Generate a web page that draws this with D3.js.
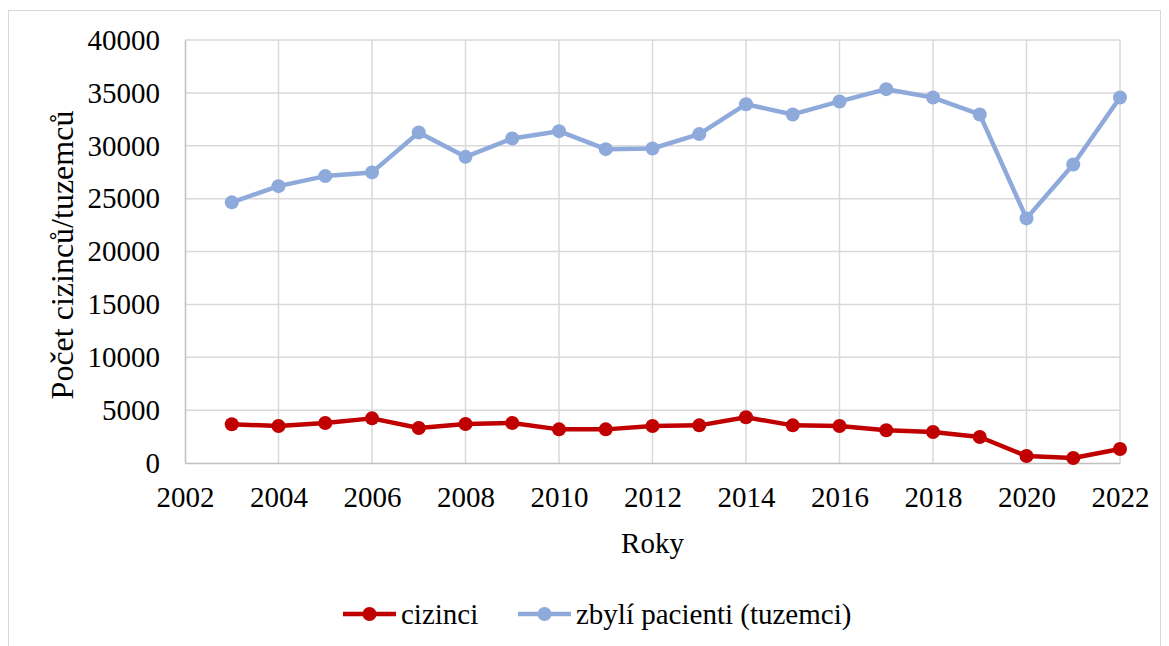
<!DOCTYPE html>
<html>
<head>
<meta charset="utf-8">
<script src="https://cdn.jsdelivr.net/npm/d3@7"></script>
<style>
  body { margin: 0; background: #fff; }
</style>
</head>
<body>
<div id="chart"></div>
<script>
// data
var years = [2003, 2004, 2005, 2006, 2007, 2008, 2009, 2010, 2011, 2012,
             2013, 2014, 2015, 2016, 2017, 2018, 2019, 2020, 2021, 2022]
var cizinci = [3660, 3500, 3780, 4220, 3310, 3690, 3780, 3180, 3180, 3500,
               3560, 4320, 3560, 3500, 3090, 2930, 2460, 660, 470, 1320]
var tuzemci = [24650, 26180, 27130, 27480, 31260, 28950, 30690, 31380, 29680, 29740,
               31100, 33930, 32960, 34190, 35350, 34560, 32960, 23130, 28230, 34560]
var xTicks = [2002, 2004, 2006, 2008, 2010, 2012, 2014, 2016, 2018, 2020, 2022]
var yTicks = [0, 5000, 10000, 15000, 20000, 25000, 30000, 35000, 40000]
var seriesNames = ["cizinci", "zbylí pacienti (tuzemci)"]
var seriesColors = ["#C00000", "#8EAADB"]

var FONT = "Liberation Serif"
var FSIZE = 29

var width = 1169, height = 646
var margin = {top: 40, right: 49, bottom: 183, left: 185}
var innerW = width - margin.left - margin.right
var innerH = height - margin.top - margin.bottom

var svg = d3.select("#chart")
    .append("svg")
    .attr("width", width)
    .attr("height", height)
    .attr("font-family", FONT)
    .attr("font-size", FSIZE)

// outer chart frame
svg.append("rect")
    .attr("x", 8.5).attr("y", 10.5)
    .attr("width", 1152).attr("height", 640)
    .attr("fill", "none")
    .attr("stroke", "#d9d9d9")
    .attr("stroke-width", 1)

var g = svg.append("g")
    .attr("transform", "translate(" + margin.left + "," + margin.top + ")")

var x = d3.scaleLinear().domain([2002, 2022]).range([0, innerW])
var y = d3.scaleLinear().domain([0, 40000]).range([innerH, 0])

// gridlines
g.append("g").selectAll("line.hg")
    .data(yTicks.slice(1))
    .enter().append("line")
    .attr("x1", 0).attr("x2", innerW)
    .attr("y1", function(d){ return y(d) }).attr("y2", function(d){ return y(d) })
    .attr("stroke", "#d9d9d9").attr("stroke-width", 1.5)

g.append("g").selectAll("line.vg")
    .data(xTicks.slice(1))
    .enter().append("line")
    .attr("x1", function(d){ return x(d) }).attr("x2", function(d){ return x(d) })
    .attr("y1", 0).attr("y2", innerH)
    .attr("stroke", "#d9d9d9").attr("stroke-width", 1.5)

// axes
var xAxis = g.append("g")
    .attr("transform", "translate(0," + innerH + ")")
    .call(d3.axisBottom(x).tickValues(xTicks).tickFormat(d3.format("d")).tickSize(0).tickPadding(23))
xAxis.select(".domain").attr("stroke", "#bfbfbf").attr("stroke-width", 1.5)

var yAxis = g.append("g")
    .call(d3.axisLeft(y).tickValues(yTicks).tickFormat(d3.format("d")).tickSize(0).tickPadding(25))
yAxis.select(".domain").attr("stroke", "#bfbfbf").attr("stroke-width", 1.5)

// axis titles
svg.append("text")
    .attr("class", "xtitle")
    .attr("x", margin.left + innerW / 2)
    .attr("y", 553)
    .attr("text-anchor", "middle")
    .text("Roky")

svg.append("text")
    .attr("class", "ytitle")
    .attr("transform", "translate(73,255) rotate(-90)")
    .attr("text-anchor", "middle")
    .text("Počet cizinců/tuzemců")

// lines and markers
var line = d3.line()
    .x(function(d){ return x(d[0]) })
    .y(function(d){ return y(d[1]) })

var allSeries = [cizinci, tuzemci]
allSeries.forEach(function(vals, i) {
    var pts = years.map(function(yr, j){ return [yr, vals[j]] })
    g.append("path")
        .datum(pts)
        .attr("d", line)
        .attr("fill", "none")
        .attr("stroke", seriesColors[i])
        .attr("stroke-width", 4.5)
        .attr("stroke-linejoin", "round")
    g.selectAll("dot" + i)
        .data(pts)
        .enter().append("circle")
        .attr("cx", function(d){ return x(d[0]) })
        .attr("cy", function(d){ return y(d[1]) })
        .attr("r", 7)
        .attr("fill", seriesColors[i])
})

// legend
var legendX = [343, 518]
var legend = svg.selectAll("g.leg")
    .data(seriesNames)
    .enter().append("g")
    .attr("transform", function(d, i){ return "translate(" + legendX[i] + ",614)" })

legend.append("line")
    .attr("x1", 0).attr("x2", 53)
    .attr("y1", 0).attr("y2", 0)
    .attr("stroke", function(d, i){ return seriesColors[i] })
    .attr("stroke-width", 4.5)
legend.append("circle")
    .attr("cx", 26.5).attr("cy", 0).attr("r", 7)
    .attr("fill", function(d, i){ return seriesColors[i] })
legend.append("text")
    .attr("x", 58).attr("y", 10)
    .text(function(d){ return d })

// same font for every text
svg.selectAll("g").attr("font-family", null).attr("font-size", null)
svg.selectAll("text")
    .attr("font-family", FONT)
    .attr("font-size", FSIZE)
    .attr("fill", "#000")
svg.select(".ytitle").attr("font-size", 32)
</script>
</body>
</html>
